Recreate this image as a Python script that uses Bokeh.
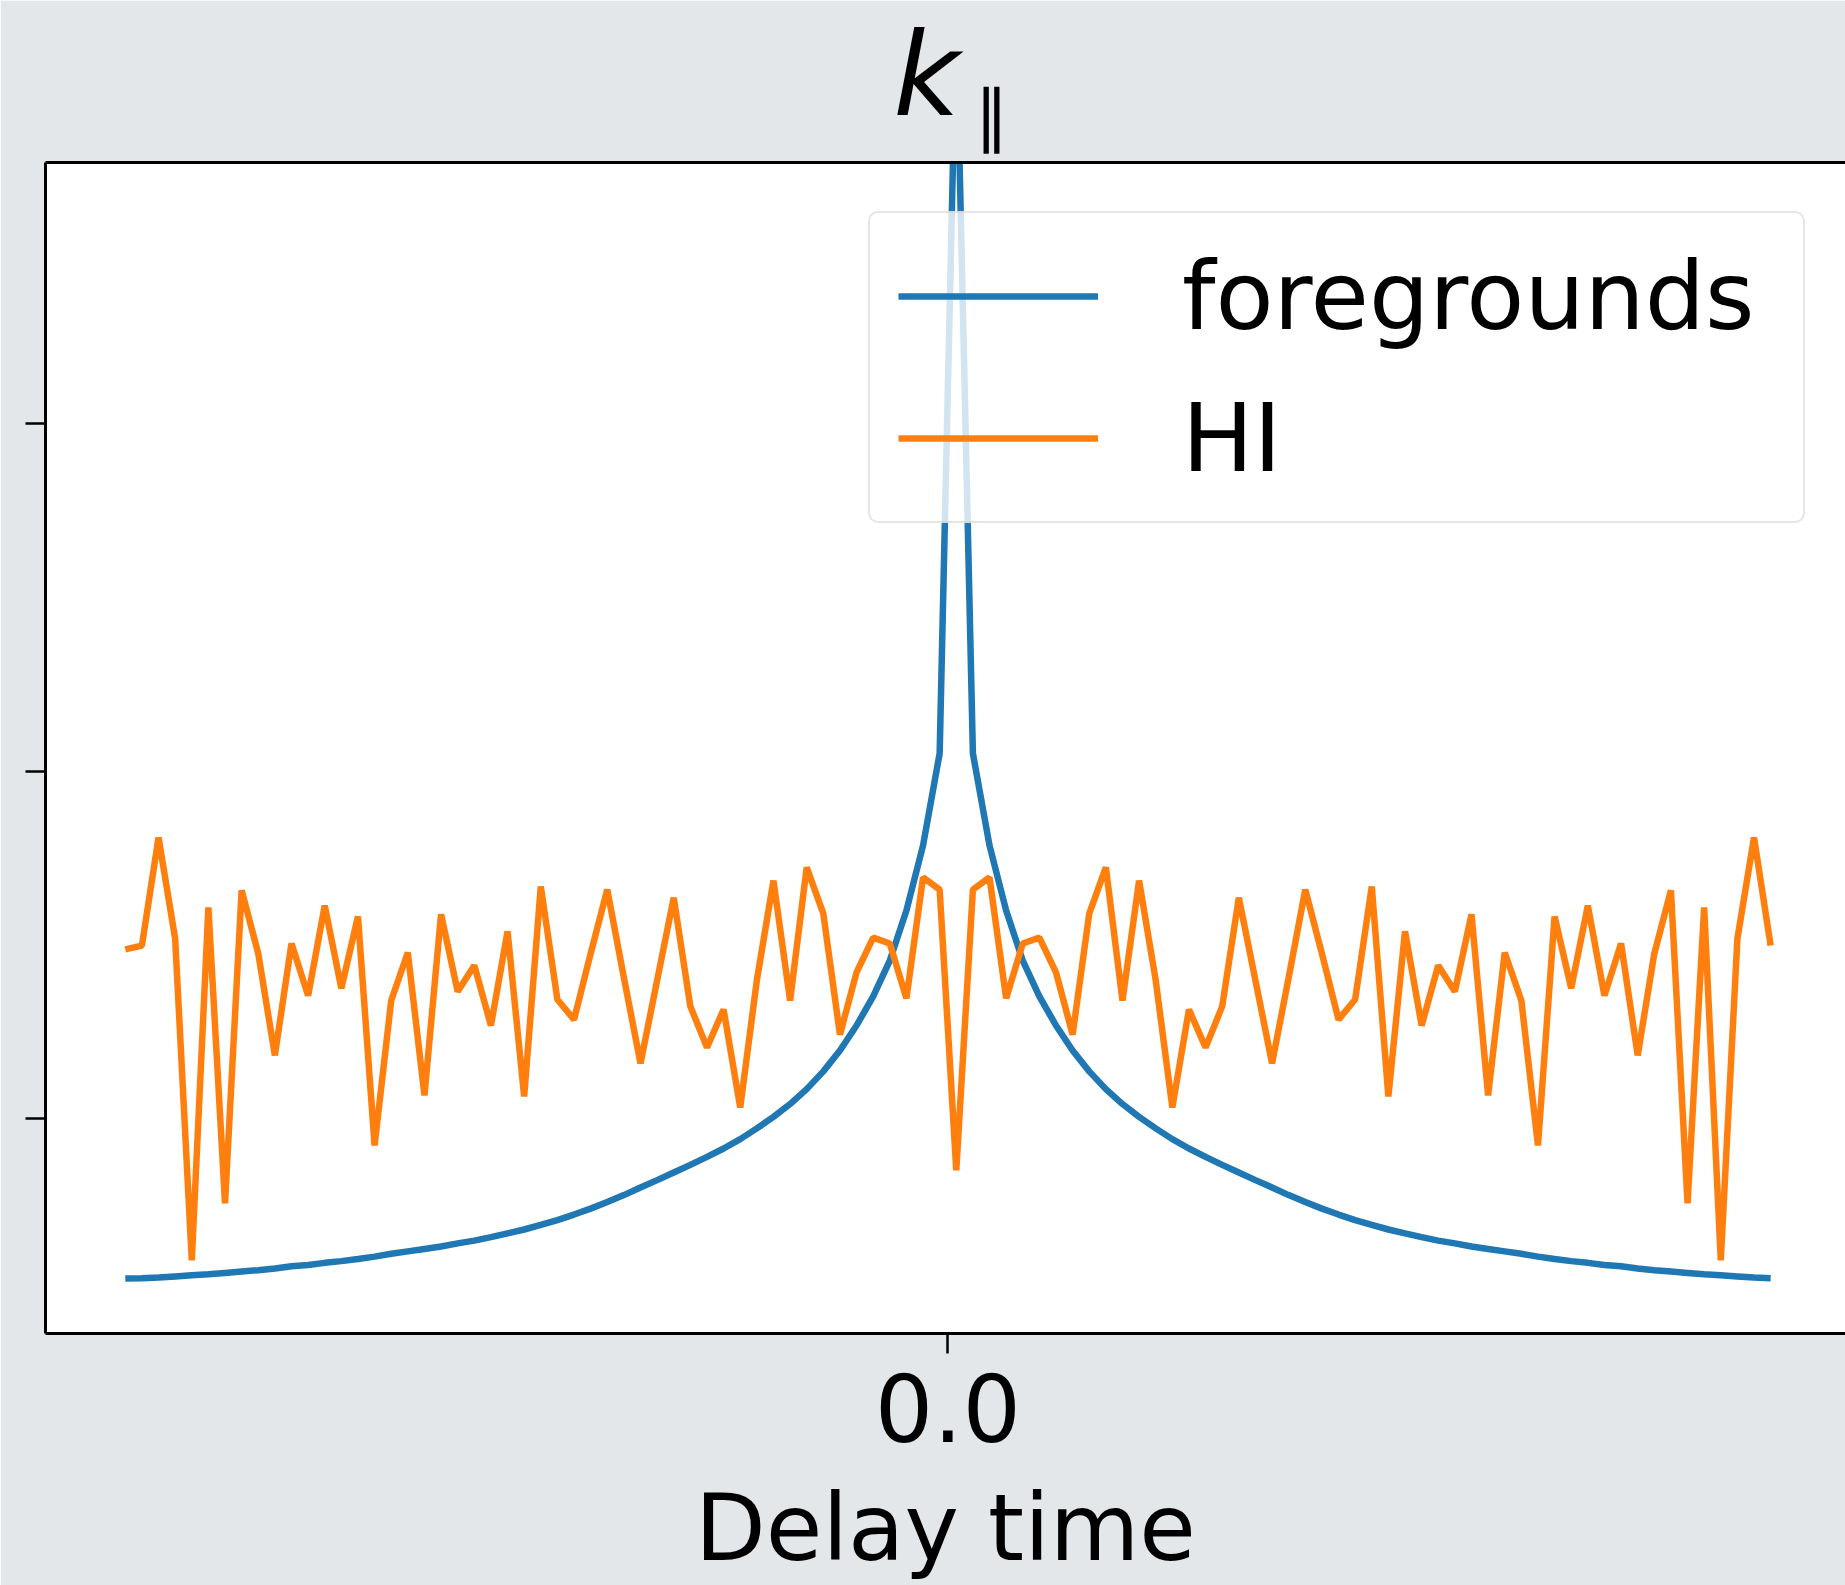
import numpy as np
from bokeh.plotting import figure
from bokeh.models import Range1d, FixedTicker, Legend, LegendItem, LinearAxis
from bokeh.embed import file_html
from bokeh.resources import INLINE

# ---- data (y in arbitrary units, ticks at 1, 2, 3) ----
n_points = 100
delay = np.linspace(-1.0, 1.0, n_points)

foregrounds = [
    0.541, 0.542, 0.544, 0.547, 0.550, 0.553, 0.557, 0.561, 0.565, 0.570,
    0.576, 0.580, 0.586, 0.591, 0.597, 0.604, 0.612, 0.619, 0.626, 0.633,
    0.642, 0.650, 0.660, 0.671, 0.682, 0.695, 0.709, 0.725, 0.742, 0.761,
    0.781, 0.803, 0.824, 0.846, 0.868, 0.891, 0.915, 0.942, 0.973, 1.006,
    1.043, 1.086, 1.137, 1.197, 1.269, 1.353, 1.456, 1.600, 1.787, 2.052,
    4.176,
    2.052, 1.787, 1.600, 1.456, 1.353, 1.269, 1.197, 1.137, 1.086, 1.043,
    1.006, 0.973, 0.942, 0.915, 0.891, 0.868, 0.846, 0.824, 0.803, 0.781,
    0.761, 0.742, 0.725, 0.709, 0.695, 0.682, 0.671, 0.660, 0.650, 0.642,
    0.633, 0.626, 0.619, 0.612, 0.604, 0.597, 0.591, 0.586, 0.580, 0.576,
    0.570, 0.565, 0.561, 0.557, 0.553, 0.550, 0.547, 0.544, 0.542,
]

hi_signal = [
    1.488, 1.499, 1.810, 1.519, 0.593, 1.609, 0.757, 1.658, 1.476, 1.183,
    1.505, 1.355, 1.614, 1.376, 1.583, 0.924, 1.341, 1.479, 1.068, 1.589,
    1.367, 1.442, 1.269, 1.540, 1.065, 1.669, 1.344, 1.286, 1.476, 1.660,
    1.407, 1.160, 1.399, 1.637, 1.324, 1.206, 1.315, 1.033, 1.399, 1.686,
    1.341, 1.724, 1.591, 1.243, 1.422, 1.522, 1.505, 1.347, 1.695, 1.660,
    0.852,
    1.660, 1.695, 1.347, 1.505, 1.522, 1.422, 1.243, 1.591, 1.724, 1.341,
    1.686, 1.399, 1.033, 1.315, 1.206, 1.324, 1.637, 1.399, 1.160, 1.407,
    1.660, 1.476, 1.286, 1.344, 1.669, 1.065, 1.540, 1.269, 1.442, 1.367,
    1.589, 1.068, 1.479, 1.341, 0.924, 1.583, 1.376, 1.614, 1.355, 1.505,
    1.183, 1.476, 1.658, 0.757, 1.609, 0.593, 1.519, 1.810, 1.499,
]

y_ticks = [1, 2, 3]
x_ticks = [0.0]
x_tick_labels = {0.0: "0.0"}
series_names = ["foregrounds", "HI"]
series_colors = ["#1f77b4", "#ff7f0e"]
title_main = "k"
title_sub = "\u2225"
title_main_x = -0.026   # horizontal place of the title letters, in delay units
title_sub_x = 0.053

FONT = "DejaVu Sans"
BG = "#e4e7ea"

p = figure(
    width=1845, height=1585,
    output_backend="svg", toolbar_location=None,
    x_range=Range1d(-1.097, 1.091), y_range=Range1d(0.3827, 3.7525),
    min_border_left=45, min_border_right=0, min_border_top=162, min_border_bottom=252,
    background_fill_color="white", border_fill_color=BG,
    outline_line_color=None,
)
p.grid.visible = False

r1 = p.line(delay, foregrounds, line_color=series_colors[0], line_width=6.5)
r2 = p.line(delay, hi_signal, line_color=series_colors[1], line_width=6.5)

xa = p.xaxis[0]
xa.ticker = FixedTicker(ticks=x_ticks)
xa.major_label_overrides = x_tick_labels
xa.minor_tick_line_color = None
xa.major_tick_in = 0
xa.major_tick_out = 20
xa.major_tick_line_width = 2.5
xa.axis_line_width = 3
xa.major_label_text_font = FONT
xa.major_label_text_font_size = "92px"
xa.major_label_text_color = "black"
xa.major_label_standoff = 20
xa.axis_label = "Delay time"
xa.axis_label_text_font = FONT
xa.axis_label_text_font_size = "92px"
xa.axis_label_text_font_style = "normal"
xa.axis_label_text_color = "black"
xa.axis_label_standoff = 30

ya = p.yaxis[0]
ya.ticker = FixedTicker(ticks=y_ticks)
ya.major_label_overrides = {tk: "" for tk in y_ticks}
ya.major_label_standoff = 0
ya.minor_tick_line_color = None
ya.major_tick_in = 0
ya.major_tick_out = 20
ya.major_tick_line_width = 2.5
ya.axis_line_width = 3

# top frame line, carrying the subscript of the title
top_axis = LinearAxis(
    ticker=FixedTicker(ticks=[title_sub_x]),
    major_label_overrides={title_sub_x: title_sub},
    axis_line_width=3, axis_line_color="black",
    major_tick_line_color=None, minor_tick_line_color=None,
    major_tick_out=0, major_tick_in=0, minor_tick_out=0, minor_tick_in=0,
    major_label_text_font=FONT, major_label_text_font_size="68px",
    major_label_text_color="black", major_label_standoff=8,
)
p.add_layout(top_axis, "above")

# the title letter k
title_axis = LinearAxis(
    ticker=FixedTicker(ticks=[title_main_x]),
    major_label_overrides={title_main_x: title_main},
    axis_line_color=None, major_tick_line_color=None, minor_tick_line_color=None,
    major_tick_out=0, major_tick_in=0, minor_tick_out=0, minor_tick_in=0,
    major_label_text_font=FONT, major_label_text_font_size="115px",
    major_label_text_font_style="italic",
    major_label_text_color="black", major_label_standoff=-69,
)
p.add_layout(title_axis, "above")

legend = Legend(
    items=[LegendItem(label=series_names[0], renderers=[r1]),
           LegendItem(label=series_names[1], renderers=[r2])],
    location=(823, 810),
    label_text_font=FONT, label_text_font_size="95px", label_text_color="black",
    glyph_width=200, glyph_height=100, label_height=100, label_width=593,
    label_standoff=84, padding=28, spacing=32, margin=0,
    border_line_color="#cccccc", border_line_width=2, border_radius=10,
    background_fill_color="white", background_fill_alpha=0.8,
)
p.add_layout(legend)

open("out.html", "w").write(file_html(p, INLINE))
